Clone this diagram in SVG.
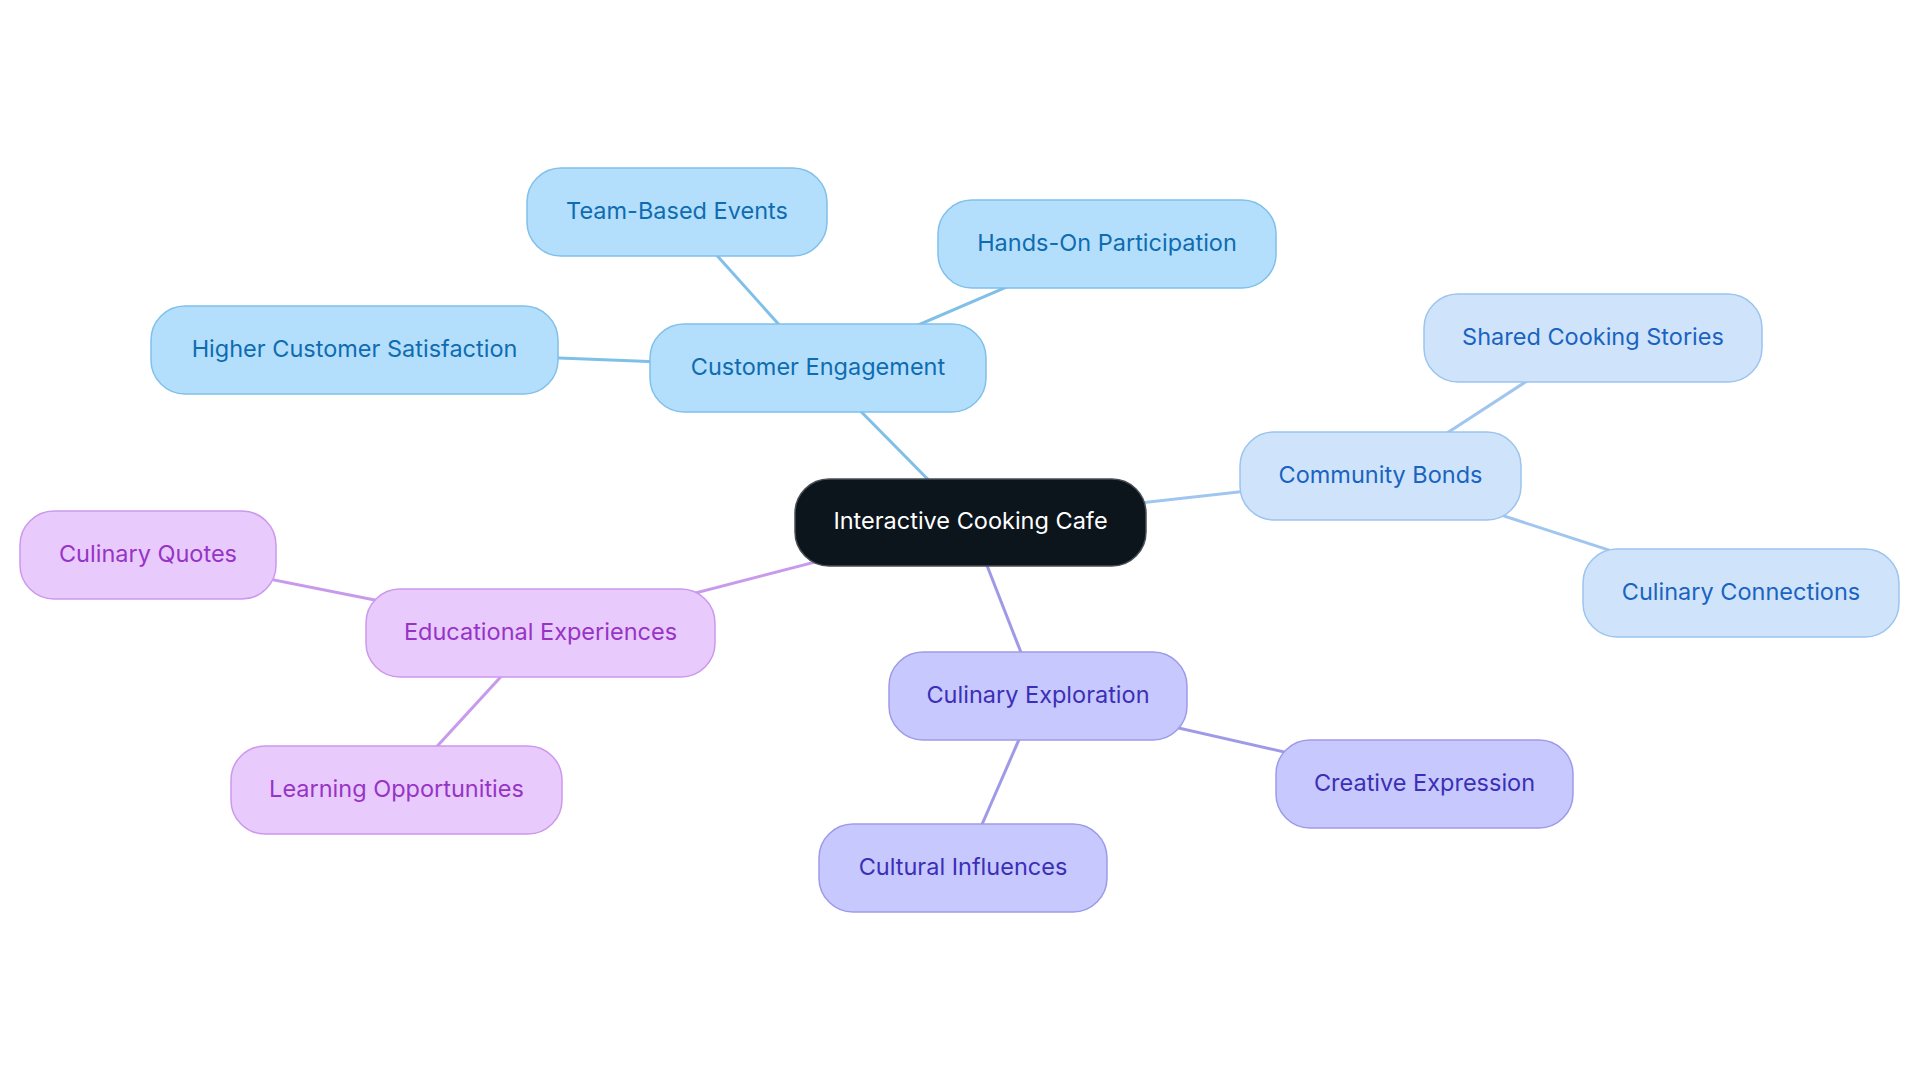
<svg xmlns="http://www.w3.org/2000/svg" width="1920" height="1083" viewBox="0 0 1920 1083">
<style>
text{font-family:Inter,"Noto Sans","Liberation Sans",sans-serif;font-size:23.5px;text-anchor:middle;dominant-baseline:central}
.b rect{fill:#b4dffc;stroke:#80c0ea;stroke-width:1.5}
.b text{fill:#0f6cb0}
.c rect{fill:#cfe4fb;stroke:#9cc4ee;stroke-width:1.5}
.c text{fill:#1a63c0}
.p rect{fill:#c7c8fd;stroke:#9e9ae8;stroke-width:1.5}
.p text{fill:#3b2fb6}
.v rect{fill:#e9cafd;stroke:#cc98ec;stroke-width:1.5}
.v text{fill:#9634c6}
#edges line{stroke-width:3;fill:none}
</style>
<rect width="1920" height="1083" fill="#ffffff"/>
<g id="edges">
<line x1="970" y1="522" x2="818" y2="368" stroke="#7fbfe8"/>
<line x1="818" y1="368" x2="677" y2="211" stroke="#7fbfe8"/>
<line x1="818" y1="368" x2="1107" y2="244" stroke="#7fbfe8"/>
<line x1="818" y1="368" x2="354" y2="350" stroke="#7fbfe8"/>
<line x1="970" y1="522" x2="1381" y2="476" stroke="#a0c6ef"/>
<line x1="1381" y1="476" x2="1593" y2="338" stroke="#a0c6ef"/>
<line x1="1381" y1="476" x2="1741" y2="593" stroke="#a0c6ef"/>
<line x1="970" y1="522" x2="1038" y2="696" stroke="#9f9ae6"/>
<line x1="1038" y1="696" x2="1425" y2="784" stroke="#9f9ae6"/>
<line x1="1038" y1="696" x2="963" y2="868" stroke="#9f9ae6"/>
<line x1="970" y1="522" x2="541" y2="633" stroke="#c89aec"/>
<line x1="541" y1="633" x2="148" y2="555" stroke="#c89aec"/>
<line x1="541" y1="633" x2="397" y2="790" stroke="#c89aec"/>
</g>
<g id="center">
<rect x="795" y="479" width="351" height="87" rx="34" fill="#0d151c" stroke="#4a4f55" stroke-width="1.5"/>
<text x="970.5" y="520.5" fill="#ffffff">Interactive Cooking Cafe</text>
</g>
<g id="customer-engagement" class="b">
<rect x="650" y="324" width="336" height="88" rx="34"/>
<text x="818" y="366">Customer Engagement</text>
</g>
<g id="team-based-events" class="b">
<rect x="527" y="168" width="300" height="88" rx="34"/>
<text x="677" y="210">Team-Based Events</text>
</g>
<g id="hands-on-participation" class="b">
<rect x="938" y="200" width="338" height="88" rx="34"/>
<text x="1107" y="242">Hands-On Participation</text>
</g>
<g id="higher-customer-satisfaction" class="b">
<rect x="151" y="306" width="407" height="88" rx="34"/>
<text x="354.5" y="348">Higher Customer Satisfaction</text>
</g>
<g id="community-bonds" class="c">
<rect x="1240" y="432" width="281" height="88" rx="34"/>
<text x="1380.5" y="474">Community Bonds</text>
</g>
<g id="shared-cooking-stories" class="c">
<rect x="1424" y="294" width="338" height="88" rx="34"/>
<text x="1593" y="336">Shared Cooking Stories</text>
</g>
<g id="culinary-connections" class="c">
<rect x="1583" y="549" width="316" height="88" rx="34"/>
<text x="1741" y="591">Culinary Connections</text>
</g>
<g id="culinary-exploration" class="p">
<rect x="889" y="652" width="298" height="88" rx="34"/>
<text x="1038" y="694">Culinary Exploration</text>
</g>
<g id="creative-expression" class="p">
<rect x="1276" y="740" width="297" height="88" rx="34"/>
<text x="1424.5" y="782">Creative Expression</text>
</g>
<g id="cultural-influences" class="p">
<rect x="819" y="824" width="288" height="88" rx="34"/>
<text x="963" y="866">Cultural Influences</text>
</g>
<g id="educational-experiences" class="v">
<rect x="366" y="589" width="349" height="88" rx="34"/>
<text x="540.5" y="631">Educational Experiences</text>
</g>
<g id="culinary-quotes" class="v">
<rect x="20" y="511" width="256" height="88" rx="34"/>
<text x="148" y="553">Culinary Quotes</text>
</g>
<g id="learning-opportunities" class="v">
<rect x="231" y="746" width="331" height="88" rx="34"/>
<text x="396.5" y="788">Learning Opportunities</text>
</g>
</svg>
